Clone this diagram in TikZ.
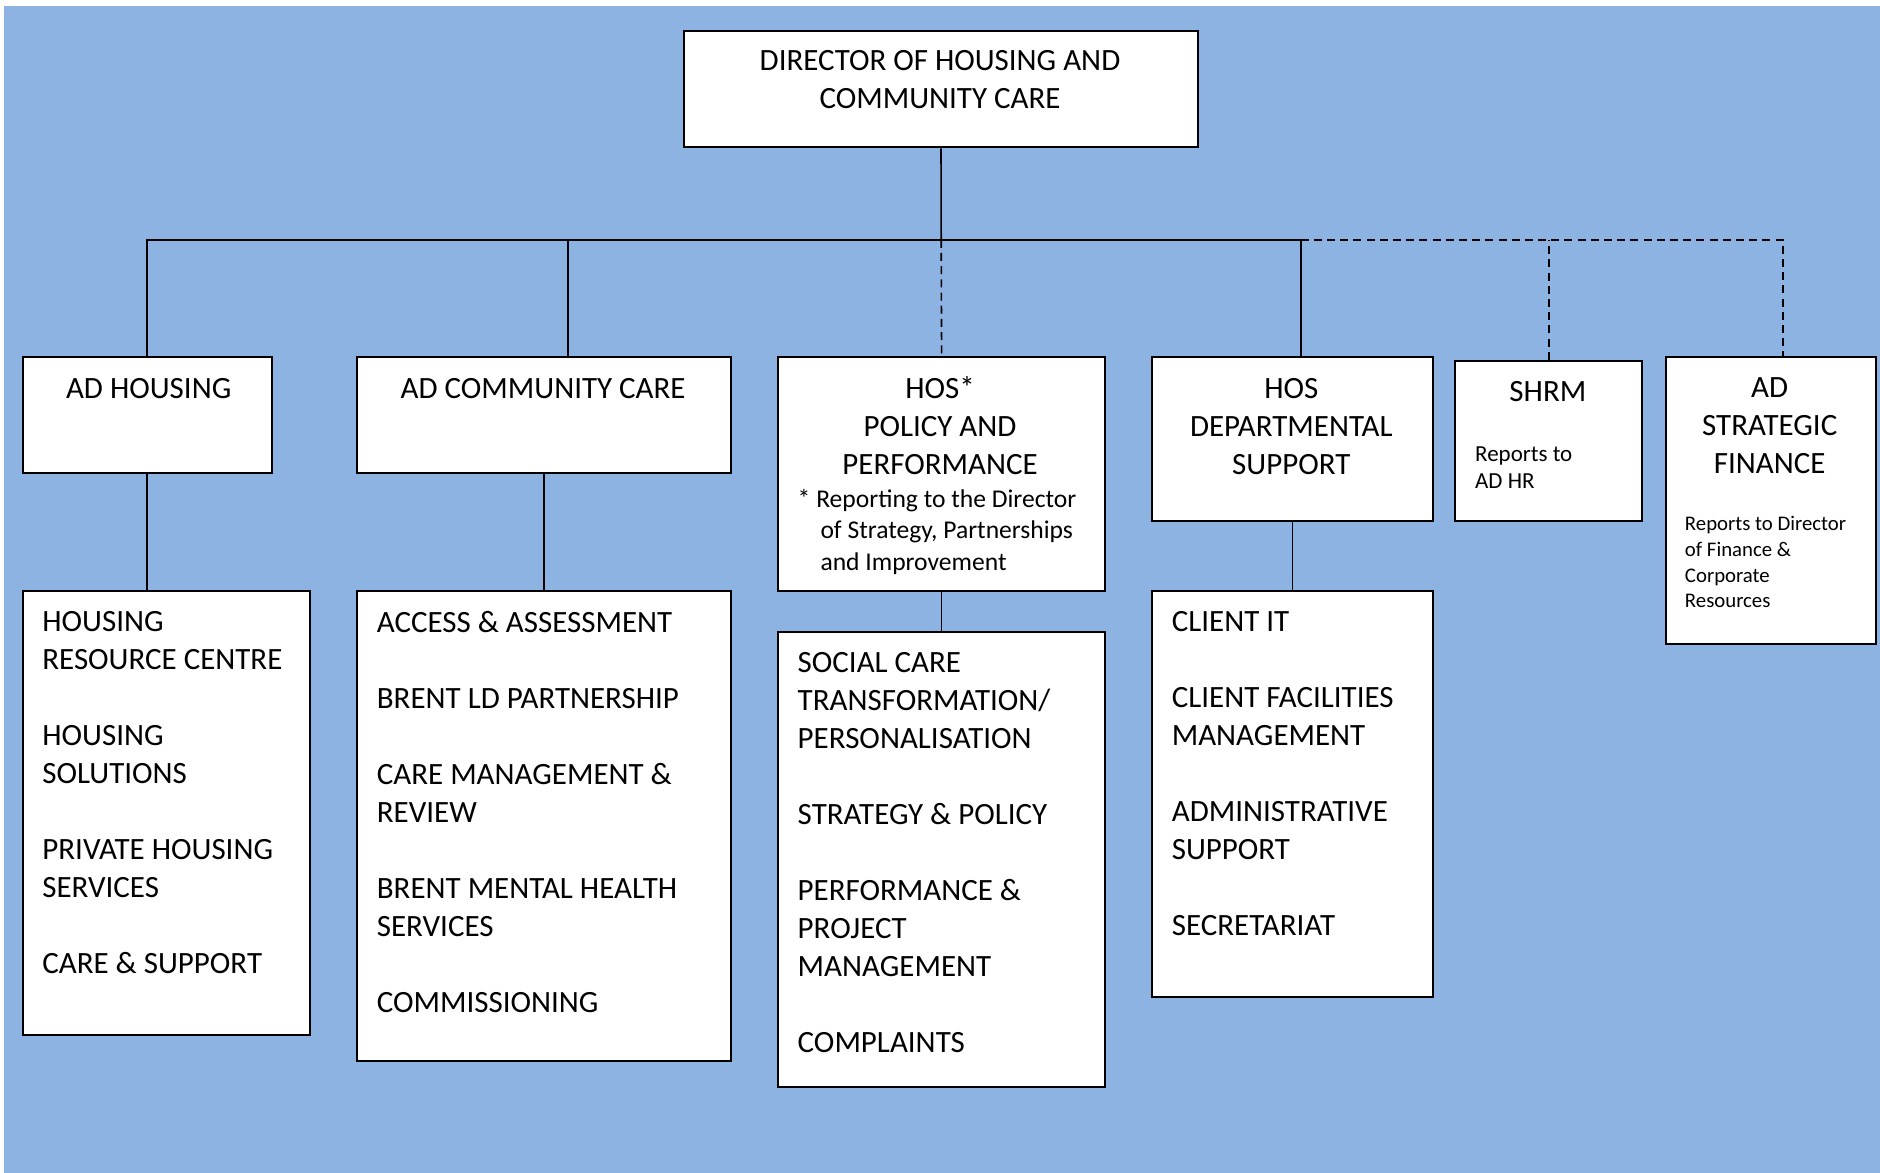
\documentclass[tikz,border=0pt]{standalone}
\usepackage{fontspec}
\setmainfont{Carlito}
\definecolor{bgblue}{RGB}{141,179,226}

\begin{document}
\begin{tikzpicture}[x=0.6pt,y=-0.6pt,
  box/.style 2 args={draw,fill=white,line width=1pt,anchor=north west,
    inner sep=0,minimum width=#1*0.6pt,minimum height=#2*0.6pt},
  head/.style={inner sep=0,anchor=north,align=center,font=\fontsize{15.5}{19}\selectfont},
  list/.style={inner sep=0,anchor=north west,align=left,font=\fontsize{15.5}{19}\selectfont},
  note/.style={inner sep=0,anchor=north west,align=left},
  link/.style={line width=0.8pt},
  dotted link/.style={line width=0.8pt,dash pattern=on 4pt off 2.6pt}]
\useasboundingbox (0,0) rectangle (1568,978);
\fill[bgblue] (3.5,5) rectangle (1568,978);

% boxes
\node[box={428}{97}] (dir) at (570,25) {};
\node[box={208}{97}] (hsg) at (18,297) {};
\node[box={312}{97}] (comm) at (297,297) {};
\node[box={273}{195}] (pol) at (648,297) {};
\node[box={234}{137}] (dept) at (960,297) {};
\node[box={156}{134}] (shrm) at (1213,300) {};
\node[box={175}{239}] (fin) at (1389,297) {};
\node[box={240}{370}] (hsglist) at (18,492) {};
\node[box={312}{392}] (commlist) at (297,492) {};
\node[box={273}{380}] (pollist) at (648,526) {};
\node[box={234}{339}] (deptlist) at (960,492) {};

% texts
\node[head] (dirtxt) at (784,41.8) {DIRECTOR OF HOUSING AND\\COMMUNITY CARE};
\node[head] (hsgtxt) at (124,315) {AD HOUSING};
\node[head] (commtxt) at (453,315) {AD COMMUNITY CARE};
\node[head] (poltxt) at (784,314) {HOS*\\POLICY AND\\PERFORMANCE};
\node[note,font=\fontsize{12.8}{15.6}\selectfont] (polnote) at (665,408)
  {*\ Reporting to the Director\\\hspace*{11.4pt}of Strategy, Partnerships\\\hspace*{11.4pt}and Improvement};
\node[head] (depttxt) at (1077,315) {HOS\\DEPARTMENTAL\\SUPPORT};
\node[head] (shrmtxt) at (1291,318) {SHRM};
\node[note,font=\fontsize{11.5}{13.8}\selectfont] (shrmnote) at (1230,372)
  {Reports to\\AD HR};
\node[head] (fintxt) at (1476,315) {AD\\STRATEGIC\\FINANCE};
\node[note,font=\fontsize{10.4}{12.8}\selectfont] (finnote) at (1405,430.5)
  {Reports to Director\\of Finance \&\\Corporate\\Resources};

\node[list] (hsgitems) at (35,510) {HOUSING\\RESOURCE CENTRE\\[19pt]HOUSING\\SOLUTIONS\\[19pt]%
  PRIVATE HOUSING\\SERVICES\\[19pt]CARE \& SUPPORT};
\node[list] (commitems) at (314,509.5) {ACCESS \& ASSESSMENT\\[19pt]BRENT LD PARTNERSHIP\\[19pt]%
  CARE MANAGEMENT \&\\REVIEW\\[19pt]BRENT MENTAL HEALTH\\SERVICES\\[19pt]COMMISSIONING};
\node[list] (politems) at (665,544) {SOCIAL CARE\\TRANSFORMATION/\\PERSONALISATION\\[19pt]%
  STRATEGY \& POLICY\\[19pt]PERFORMANCE \&\\PROJECT\\MANAGEMENT\\[19pt]COMPLAINTS};
\node[list] (deptitems) at (977,510) {CLIENT IT\\[19pt]CLIENT FACILITIES\\MANAGEMENT\\[19pt]%
  ADMINISTRATIVE\\SUPPORT\\[19pt]SECRETARIAT};

% connectors
\coordinate (bus) at (785,200);
\draw[link] (dir.south) -- (bus);
\draw[link] (hsg.north) |- (bus);
\draw[link] ([xshift=12pt]comm.north) -- ([xshift=12pt]comm.north |- bus);
\draw[link] (bus) -| ([xshift=4.2pt]dept.north);
\draw[dotted link] (bus) -- (pol.north);
\draw[dotted link] ([xshift=4.2pt]dept.north |- bus) -| ([xshift=5.7pt]fin.north);
\draw[dotted link] (shrm.north) -- (shrm.north |- bus);
\draw[link] (hsg.south) -- (hsg.south |- hsglist.north);
\draw[link] (comm.south) -- (commlist.north);
\draw[link] (pol.south) -- (pollist.north);
\draw[link] (dept.south) -- (deptlist.north);
\end{tikzpicture}
\end{document}
